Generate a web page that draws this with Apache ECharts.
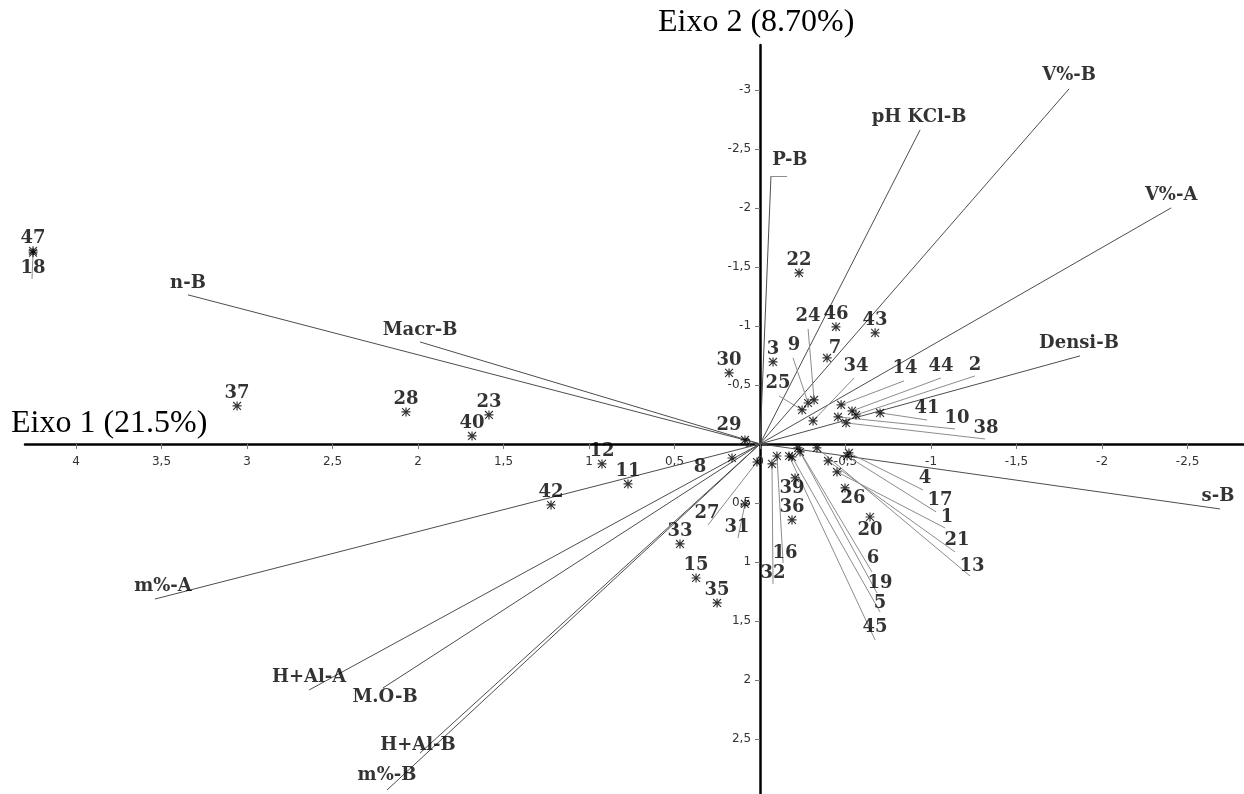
<!DOCTYPE html>
<html>
<head>
<meta charset="utf-8">
<script src="https://cdn.jsdelivr.net/npm/echarts@6/dist/echarts.min.js"></script>
<style>
html,body{margin:0;padding:0;background:#fff;}
#chart{width:1244px;height:794px;}
</style>
</head>
<body>
<div id="chart"></div>
<script>
// ---- Axis ticks ----
const xTicks = [-2.5, -2, -1.5, -1, -0.5, 0, 0.5, 1, 1.5, 2, 2.5, 3, 3.5, 4];
const yTicks = [-3, -2.5, -2, -1.5, -1, -0.5, 0, 0.5, 1, 1.5, 2, 2.5];
const xAxisName = 'Eixo 1 (21.5%)';
const yAxisName = 'Eixo 2 (8.70%)';

// ---- Variables (vectors from origin) ----
const varNames = ['n-B', 'Macr-B', 'P-B', 'pH KCl-B', 'V%-B', 'V%-A', 'Densi-B', 's-B', 'm%-A', 'H+Al-A', 'M.O-B', 'H+Al-B', 'm%-B'];
const varX = [3.345, 1.988, -0.064, -0.936, -1.807, -2.404, -1.871, -2.690, 3.538, 2.637, 2.205, 1.988, 2.181];
const varY = [-1.263, -0.864, -2.271, -2.661, -3.008, -2.000, -0.746, 0.551, 1.314, 2.085, 2.068, 2.619, 2.932];
// label anchors of variables (data units)
const varLabelX = [3.345, 1.988, -0.175, -0.930, -1.807, -2.404, -1.865, -2.678, 3.491, 2.637, 2.193, 2.000, 2.181];
const varLabelY = [-1.364, -0.966, -2.407, -2.763, -3.127, -2.110, -0.856, 0.441, 1.203, 1.975, 2.144, 2.551, 2.805];
// leader for P-B label
const varLeaderX = [null, null, -0.158, null, null, null, null, null, null, null, null, null, null];
const varLeaderY = [null, null, -2.271, null, null, null, null, null, null, null, null, null, null];

// ---- Observations (points) ----
const pointNames = ['47','18','37','28','23','40','12','11','42','8','29','30','3','22','46','43','7','25','9','24','34','14','44','2','41','10','38','4','17','1','21','13','26','20','6','19','5','45','39','36','16','32','31','27','33','15','35'];
const pointX = [4.251, 4.251, 3.058, 2.070, 1.585, 1.684, 0.924, 0.772, 1.222, 0.164, 0.088, 0.181, -0.076, -0.228, -0.444, -0.673, -0.392, -0.246, -0.281, -0.316, -0.310, -0.474, -0.538, -0.561, -0.702, -0.456, -0.503, -0.520, -0.509, -0.450, -0.398, -0.333, -0.497, -0.643, -0.222, -0.234, -0.187, -0.170, -0.205, -0.187, -0.099, -0.070, 0.088, 0.018, 0.468, 0.374, 0.251];
const pointY = [-1.636, -1.620, -0.322, -0.271, -0.246, -0.068, 0.169, 0.339, 0.517, 0.119, -0.034, -0.602, -0.695, -1.449, -0.992, -0.941, -0.729, -0.288, -0.347, -0.373, -0.195, -0.331, -0.280, -0.246, -0.263, -0.229, -0.178, 0.076, 0.102, 0.237, 0.144, 0.034, 0.373, 0.619, 0.034, 0.068, 0.110, 0.102, 0.288, 0.644, 0.102, 0.169, 0.508, 0.153, 0.847, 1.136, 1.347];
// displaced label anchors (null = label just above the point)
const pointLabelX = [null, 4.251, null, null, null, null, null, null, null, 0.351, 0.181, null, null, null, null, null, -0.439, -0.105, -0.199, -0.281, -0.561, -0.848, -1.058, -1.257, -0.977, -1.152, -1.322, -0.965, -1.053, -1.094, -1.152, -1.240, -0.544, -0.643, -0.661, -0.702, -0.702, -0.673, -0.187, null, -0.146, -0.076, 0.135, 0.310, null, null, null];
const pointLabelY = [null, -1.492, null, null, null, null, null, null, null, 0.195, -0.161, null, null, null, null, null, -0.814, -0.517, -0.839, -1.085, -0.661, -0.644, -0.661, -0.669, -0.305, -0.220, -0.136, 0.288, 0.475, 0.619, 0.814, 1.034, 0.458, 0.729, 0.966, 1.178, 1.347, 1.551, 0.373, null, 0.924, 1.093, 0.703, 0.585, null, null, null];
// leader line ends (null = no leader)
const pointLeaderX = [null, 4.257, null, null, null, null, null, null, null, null, null, null, null, null, null, null, null, -0.111, -0.193, -0.281, -0.550, -0.842, -1.058, -1.257, -0.977, -1.140, -1.316, -0.953, -1.030, -1.082, -1.140, -1.228, null, null, -0.655, -0.684, -0.702, -0.673, null, null, -0.135, -0.076, 0.129, 0.304, null, null, null];
const pointLeaderY = [null, -1.398, null, null, null, null, null, null, null, null, null, null, null, null, null, null, null, -0.407, -0.729, -0.975, -0.559, -0.534, -0.559, -0.576, -0.203, -0.127, -0.042, 0.390, 0.576, 0.712, 0.915, 1.119, null, null, 1.085, 1.263, 1.424, 1.661, null, null, 1.008, 1.186, 0.797, 0.686, null, null, null];

// ---- build ----
const W = 1244, H = 794;
const G = {left: 25, right: 0, top: 45, bottom: 0};
const X_MIN = -2.83, X_MAX = 4.298, Y_MIN = -3.38, Y_MAX = 2.966;
// shift the axes so that they cross at the origin
const gw = W - G.left - G.right, gh = H - G.top - G.bottom;
const zeroPxX = G.left + (X_MAX - 0) / (X_MAX - X_MIN) * gw;   // x axis inverse
const zeroPxY = G.top + (0 - Y_MIN) / (Y_MAX - Y_MIN) * gh;    // y axis inverse
const xOffset = -(H - G.bottom - zeroPxY);
const yOffset = -(zeroPxX - G.left);

const asterisk = 'path://M4.35 0 L5.65 0 L5.65 10 L4.35 10 Z M0 4.35 L10 4.35 L10 5.65 L0 5.65 Z M1.1 0.2 L9.8 8.9 L8.9 9.8 L0.2 1.1 Z M8.9 0.2 L9.8 1.1 L1.1 9.8 L0.2 8.9 Z';
const serifLabel = {fontFamily: '"DejaVu Serif", serif', fontWeight: 'bold', fontSize: 18, color: '#000'};
const tickFont = {fontFamily: '"DejaVu Sans", sans-serif', fontSize: 12, color: '#333'};
const fmt = v => String(v).replace('.', ',');

const vectorData = varNames.map((n, i) => ({coords: [[0, 0], [varX[i], varY[i]]]}));
const leaderData = [];
varNames.forEach((n, i) => {
  if (varLeaderX[i] !== null) leaderData.push({coords: [[varX[i], varY[i]], [varLeaderX[i], varLeaderY[i]]]});
});
pointNames.forEach((n, i) => {
  if (pointLeaderX[i] !== null) leaderData.push({coords: [[pointX[i], pointY[i]], [pointLeaderX[i], pointLeaderY[i]]]});
});

const pointData = pointNames.map((n, i) => ({
  name: n, value: [pointX[i], pointY[i]],
  label: {show: pointLabelX[i] === null}
}));
const movedLabels = [];
pointNames.forEach((n, i) => {
  if (pointLabelX[i] !== null) movedLabels.push({name: n, value: [pointLabelX[i], pointLabelY[i]]});
});
varNames.forEach((n, i) => movedLabels.push({name: n, value: [varLabelX[i], varLabelY[i]]}));

const chart = echarts.init(document.getElementById('chart'), null, {renderer: 'canvas'});
chart.setOption({
  backgroundColor: '#fff',
  animation: false,
  grid: Object.assign({containLabel: false, outerBoundsMode: 'none'}, G),
  xAxis: {
    type: 'value', inverse: true, min: X_MIN, max: X_MAX, position: 'bottom', offset: xOffset,
    axisLine: {onZero: false, lineStyle: {color: '#000', width: 2.5}},
    axisTick: {customValues: xTicks, length: 5, lineStyle: {color: '#777'}},
    axisLabel: Object.assign({customValues: xTicks, formatter: fmt, margin: 12}, tickFont),
    splitLine: {show: false}
  },
  yAxis: {
    type: 'value', inverse: true, min: Y_MIN, max: Y_MAX, position: 'left', offset: yOffset,
    axisLine: {onZero: false, lineStyle: {color: '#000', width: 2.5}},
    axisTick: {customValues: yTicks, length: 5, lineStyle: {color: '#777'}},
    axisLabel: Object.assign({customValues: yTicks, formatter: fmt, margin: 9}, tickFont),
    splitLine: {show: false}
  },
  graphic: [
    {type: 'text', left: 11, top: 408, z: 50, style: {text: xAxisName, font: '32px "Liberation Serif", serif', fill: '#000'}},
    {type: 'text', left: 658, top: 7, z: 50, style: {text: yAxisName, font: '32px "Liberation Serif", serif', fill: '#000'}}
  ],
  series: [
    {
      type: 'lines', coordinateSystem: 'cartesian2d', silent: true, z: 2,
      lineStyle: {color: '#4d4d4d', width: 1, opacity: 1},
      data: vectorData
    },
    {
      type: 'lines', coordinateSystem: 'cartesian2d', silent: true, z: 2,
      lineStyle: {color: '#8c8c8c', width: 1, opacity: 1},
      data: leaderData
    },
    {
      type: 'scatter', z: 5, symbol: asterisk, symbolSize: 9,
      itemStyle: {color: '#000'},
      label: Object.assign({position: 'top', distance: -1, formatter: p => p.name}, serifLabel),
      data: pointData
    },
    {
      type: 'scatter', z: 6, symbol: 'circle', symbolSize: 1,
      itemStyle: {color: 'rgba(0,0,0,0)'},
      label: Object.assign({show: true, position: 'inside', formatter: p => p.name}, serifLabel),
      data: movedLabels
    }
  ]
});
</script>
</body>
</html>
